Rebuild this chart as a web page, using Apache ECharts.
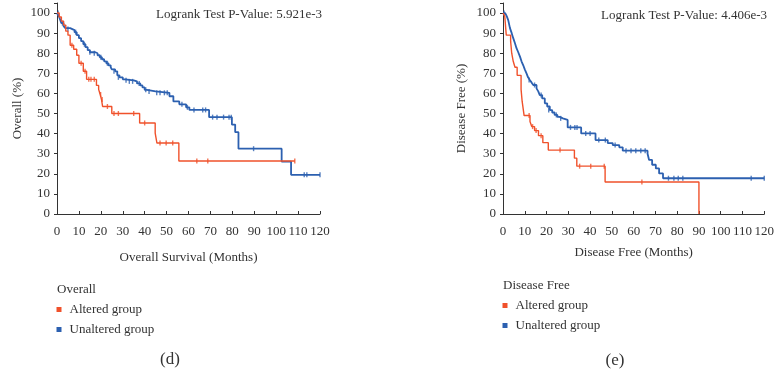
<!DOCTYPE html>
<html>
<head>
<meta charset="utf-8">
<script src="https://cdn.jsdelivr.net/npm/echarts@6/dist/echarts.min.js"></script>
<style>
*{margin:0;padding:0;}
#main{width:777px;height:377px;background:#fff;}
</style>
</head>
<body>
<div id="main"></div>
<script>
// tick labels
var xTicks = [0, 10, 20, 30, 40, 50, 60, 70, 80, 90, 100, 110, 120];
var yTicks = [0, 10, 20, 30, 40, 50, 60, 70, 80, 90, 100];

// (d) overall survival: [month, %] after each step
var osAltered = [[0,100],[1,98],[2,96],[3,94],[4,91],[5,89],[6,84],[7.6,82],[9,79],[10,75],[12,71],[13.5,67],[18,64],[19,62],
  [19.7,59.5],[20.3,57],[20.8,53.5],[25,50],[37.7,45.3],[44.8,40.3],[45.6,35.3],[55.6,26.4],[108.5,26.4]];
var osAlteredCensor = [[6.8,84],[11,75],[12.8,71],[14.5,67],[15.5,67],[17,67],[19.9,59.5],[20.6,57],[23,53.5],[26,50],[28,50],
  [35,50],[40,45.3],[47,35.3],[49.8,35.3],[52.8,35.3],[63.8,26.4],[68.8,26.4],[108.5,26.4]];
var osUnaltered = [[0,100],[0.5,99],[1,98],[1.5,96.5],[2,95],[3,93.5],[3.8,92.5],[6,92],[7,91.5],[8,90.5],[9,89],[10,87.5],
  [11,86],[12,84.5],[13,83],[14,81.5],[15,80.5],[17.5,80],[18.5,79],[19.5,78],[20.5,77],[21.5,76],[22.5,75],[23.5,74],
  [24.5,73],[25,72],[26.5,71],[27.5,69],[28.5,68],[30,67],[31,66.5],[35,66],[36.5,65],[38,64],[39,63],[40,61.8],[41,61],
  [45,60.3],[51.3,58.6],[53.1,56],[55.8,54.6],[58.9,53.1],[60.4,51.8],[69.4,48.2],[79.8,44.5],[81.3,40.7],[82.8,32.5],
  [102.5,26.1],[106.8,19.5],[120,19.5]];
var osUnalteredCensor = [[0.5,100],[2.5,95],[5,92],[8.5,90.5],[12.5,84.5],[15,80.5],[17,80],[20,78],[23,75],[26,71],[28,68],
  [31.5,66.5],[33,66],[34.5,66],[37.5,65],[40.5,61.8],[42,61],[45.5,60.3],[47,60.3],[49,60.3],[50.3,60.3],[57,54.6],[59.5,53.1],
  [62.5,51.8],[66.5,51.8],[67.8,51.8],[71,48.2],[73,48.2],[76,48.2],[78.5,48.2],[79.5,48.2],[89.7,32.5],[112.8,19.5],
  [114,19.5],[120,19.5]];

// (e) disease free
var dfAltered = [[0,100],[0.8,98.5],[1.5,89],[3.5,86],[4,80],[4.7,76],[5.5,73],[6.5,69],[8.3,62],[8.8,56],[9.7,49],[12.4,46],
  [13.2,43.5],[14.5,41.5],[16.3,39],[18.3,35.5],[20.8,31.8],[32.8,27.8],[33.9,23.8],[46.9,15.9],[90,0]];
var dfAlteredCensor = [[12,49],[13.6,43.5],[15.2,41.5],[17.5,39],[26.2,31.8],[35.2,23.8],[40.3,23.8],[46.5,23.8],[63.8,15.9]];
var dfUnaltered = [[0,100],[1,99.5],[1.7,98.5],[2.4,96.5],[3.2,92.5],[4,90],[4.7,87.5],[5.5,85],[6.2,82.5],[7,80.5],[7.8,78.3],
  [8.5,76],[9.3,74],[10,72],[10.8,70],[11.5,68],[12.3,66.7],[13.1,65.5],[13.9,64.2],[15.4,62.5],[16.2,61],[16.9,59.2],[18,57.5],
  [19.2,55.1],[20.3,53.5],[21.5,51.7],[22.6,50.5],[23.7,49.3],[25,48.3],[26,47.6],[27.5,46.8],[29.7,43.1],[35.9,40.1],
  [42.5,36.8],[48.1,35.3],[50.4,34.3],[53.4,33.2],[55,31.5],[66.4,30],[67.1,26.9],[68.5,24.5],[70.2,22.7],[71.7,20.2],
  [73.5,17.8],[120,17.8]];
var dfUnalteredCensor = [[0.5,100],[12,66.7],[14.5,64.2],[17.5,59.2],[21,51.7],[24.5,49.3],[26.5,47.6],[31,43.1],[33,43.1],
  [34,43.1],[38,40.1],[40,40.1],[44,36.8],[47,36.8],[51.5,34.3],[56.5,31.5],[58.8,31.5],[61,31.5],[63.3,31.5],[65.3,31.5],
  [76,17.8],[78.5,17.8],[80.5,17.8],[82.6,17.8],[114,17.8],[120,17.8]];

var RED = '#f0512b';
var BLUE = '#2c60b0';
var FONT = 'Liberation Serif';
var TXT = '#333';

function km(name, steps, censor, color, gi, width) {
    return [{
        name: name, type: 'line', step: 'end', xAxisIndex: gi, yAxisIndex: gi,
        data: steps, showSymbol: false, symbol: 'none',
        lineStyle: {color: color, width: width}, itemStyle: {color: color}
    }, {
        name: name + ' censored', type: 'scatter', xAxisIndex: gi, yAxisIndex: gi,
        data: censor, symbol: 'rect', symbolSize: [1.4, 5],
        itemStyle: {color: color}
    }];
}

function xAx(gi, title, gap) {
    return {
        type: 'value', gridIndex: gi, min: xTicks[0], max: xTicks[xTicks.length - 1], interval: 10,
        name: title, nameLocation: 'middle', nameGap: gap,
        nameTextStyle: {fontFamily: FONT, fontSize: 13, color: TXT},
        axisLine: {lineStyle: {color: '#333'}},
        axisTick: {show: true, inside: true, length: 3, lineStyle: {color: '#333'}},
        axisLabel: {fontFamily: FONT, fontSize: 13, color: TXT, margin: 11},
        splitLine: {show: false}
    };
}

function yAx(gi, title, gap) {
    return {
        type: 'value', gridIndex: gi, min: 0, max: 105, interval: 10,
        name: title, nameLocation: 'middle', nameGap: gap,
        nameTextStyle: {fontFamily: FONT, fontSize: 13, color: TXT},
        axisLine: {show: true, lineStyle: {color: '#333'}},
        axisTick: {show: true, length: 3, lineStyle: {color: '#333'}},
        axisLabel: {fontFamily: FONT, fontSize: 13, color: TXT, margin: 7,
            formatter: function (v) { return yTicks.indexOf(v) >= 0 ? v : ''; }},
        splitLine: {show: false}
    };
}

function txt(x, y, s, size, align) {
    return {type: 'text', x: x, y: y, style: {text: s, fontFamily: FONT, fontSize: size, fill: TXT,
        align: align || 'left', verticalAlign: 'middle'}};
}

function leg(x, y) {
    return {
        left: x, top: y, padding: 0, orient: 'vertical', icon: 'rect', itemWidth: 5, itemHeight: 5, itemGap: 7,
        textStyle: {fontFamily: FONT, fontSize: 13, color: TXT, padding: [0, 0, 0, 3]},
        data: [{name: 'Altered group', itemStyle: {color: RED}}, {name: 'Unaltered group', itemStyle: {color: BLUE}}]
    };
}

var myChart = echarts.init(document.getElementById('main'));
var option = {
    backgroundColor: '#fff',
    animation: false,
    grid: [
        {left: 57, top: 3, width: 263, height: 211},
        {left: 503, top: 3, width: 263, height: 211}
    ],
    xAxis: [xAx(0, 'Overall Survival (Months)', 37), xAx(1, 'Disease Free (Months)', 32)],
    yAxis: [yAx(0, 'Overall (%)', 33), yAx(1, 'Disease Free (%)', 35)],
    legend: [leg(56.5, 303), leg(502.5, 299)],
    graphic: [
        txt(322, 15, 'Logrank Test P-Value: 5.921e-3', 13, 'right'),
        txt(767, 16, 'Logrank Test P-Value: 4.406e-3', 13, 'right'),
        txt(57, 290, 'Overall', 13),
        txt(503, 286, 'Disease Free', 13),
        txt(170, 360, '(d)', 17, 'center'),
        txt(615, 361, '(e)', 17, 'center')
    ],
    series: [].concat(
        km('Unaltered group', osUnaltered, osUnalteredCensor, BLUE, 0, 1.8),
        km('Altered group', osAltered, osAlteredCensor, RED, 0, 1.4),
        km('Unaltered group', dfUnaltered, dfUnalteredCensor, BLUE, 1, 1.8),
        km('Altered group', dfAltered, dfAlteredCensor, RED, 1, 1.4)
    )
};
myChart.setOption(option);
</script>
</body>
</html>
